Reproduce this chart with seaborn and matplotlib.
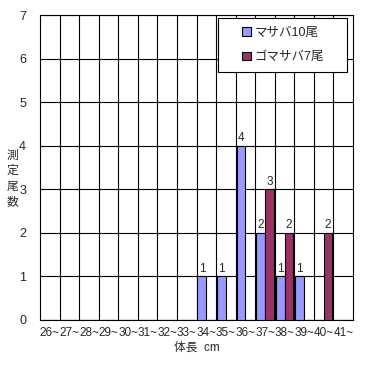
import matplotlib
matplotlib.use("Agg")
import matplotlib.pyplot as plt
from matplotlib.patches import Rectangle
import seaborn as sns
import pandas as pd

categories = ["26~", "27~", "28~", "29~", "30~", "31~", "32~", "33~",
              "34~", "35~", "36~", "37~", "38~", "39~", "40~", "41~"]
series_names = ["マサバ10尾", "ゴマサバ7尾"]
masaba = [0, 0, 0, 0, 0, 0, 0, 0, 1, 1, 4, 2, 1, 1, 0, 0]
gomasaba = [0, 0, 0, 0, 0, 0, 0, 0, 0, 0, 0, 3, 2, 0, 2, 0]
colors = ["#9999FF", "#993366"]
ylabel_chars = ["測", "定", "尾", "数"]

sns.set_theme(style="white")
plt.rcParams["font.family"] = ["Liberation Sans", "Noto Sans CJK JP"]
plt.rcParams["axes.unicode_minus"] = False

df = pd.DataFrame({
    "体長": categories * 2,
    "尾数": masaba + gomasaba,
    "種": [series_names[0]] * len(categories) + [series_names[1]] * len(categories),
})

fig = plt.figure(figsize=(3.71, 3.65), dpi=100)
ax = fig.add_axes([40 / 371, 1 - 320 / 365, 313 / 371, 305 / 365])

sns.barplot(data=df, x="体長", y="尾数", hue="種", order=categories,
            hue_order=series_names, palette=colors, width=0.9,
            edgecolor="black", linewidth=0.8, saturation=1, ax=ax, zorder=3)

for cont, vals in zip(ax.containers, [masaba, gomasaba]):
    ax.bar_label(cont, labels=[str(v) if v else "" for v in vals],
                 fontsize=8.5, padding=1)

ax.set_ylim(0, 7)
ax.set_xlim(-0.5, len(categories) - 0.5)
ax.set_yticks(range(8))
ax.set_xticks([i - 0.5 for i in range(1, len(categories))], minor=True)
ax.grid(True, which="major", axis="y", color="black", linewidth=0.8, zorder=0)
ax.grid(True, which="minor", axis="x", color="black", linewidth=0.8, zorder=0)
ax.set_axisbelow(True)
for s in ax.spines.values():
    s.set_color("black")
    s.set_linewidth(0.8)
ax.tick_params(axis="x", which="both", length=0, labelsize=8.5, pad=5)
ax.tick_params(axis="y", which="both", length=0, labelsize=9, pad=10)
ax.set_xlabel("体長  cm", fontsize=8.5, labelpad=2)
ax.set_ylabel("")
for i, ch in enumerate(ylabel_chars):
    fig.text(12.5 / 371, 1 - (155 + i * 15.5) / 365, ch, fontsize=8.5,
             family="Noto Sans CJK JP", ha="center", va="center")

# legend frame (Excel-style rectangle) and legend entries inside it
ax.add_patch(Rectangle((218 / 371, 1 - 72 / 365), 129 / 371, 54 / 365,
                       transform=fig.transFigure, facecolor="white",
                       edgecolor="black", linewidth=0.8, zorder=6,
                       clip_on=False))
leg = ax.legend(loc="center", bbox_to_anchor=(283 / 371, 1 - 45 / 365),
                bbox_transform=fig.transFigure,
                frameon=False, fontsize=9,
                handlelength=0.7, handleheight=0.7, handletextpad=0.3,
                labelspacing=1.0, borderpad=0, borderaxespad=0, title=None)
leg.set_zorder(7)

fig.savefig("out.png", dpi=100)
